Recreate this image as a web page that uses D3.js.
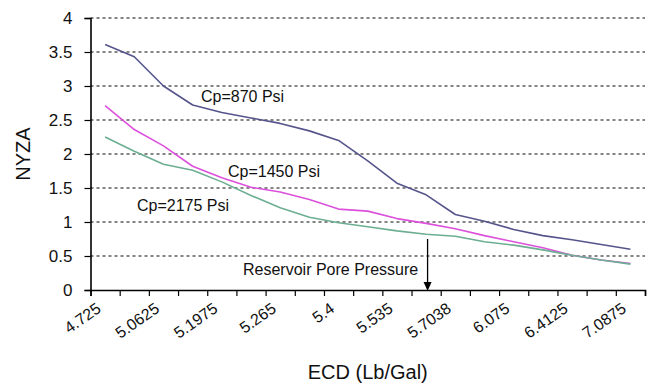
<!DOCTYPE html>
<html><head><meta charset="utf-8">
<script src="https://cdn.jsdelivr.net/npm/d3@7"></script>
<style>
body{margin:0;background:#fff;}
text{font-family:Arial,"Liberation Sans",sans-serif;fill:#111;}
</style></head>
<body><svg id="c" width="657" height="386"></svg>
<script>
// ECD (Lb/Gal) category labels (every second of 19 categories is labelled)
const ecdLabels = ["4.725","5.0625","5.1975","5.265","5.4","5.535","5.7038","6.075","6.4125","7.0875"];
const nCategories = 19;
const seriesNames = ["Cp=870 Psi","Cp=1450 Psi","Cp=2175 Psi"];
const cp870  = [3.61,3.43,3.00,2.72,2.61,2.53,2.45,2.34,2.20,1.90,1.57,1.40,1.11,1.01,0.89,0.80,0.74,0.67,0.60];
const cp1450 = [2.71,2.36,2.12,1.82,1.65,1.51,1.44,1.33,1.19,1.16,1.05,0.98,0.90,0.80,0.71,0.62,0.51,0.44,0.39];
const cp2175 = [2.25,2.04,1.85,1.76,1.59,1.39,1.21,1.07,0.99,0.93,0.87,0.82,0.79,0.71,0.66,0.59,0.51,0.44,0.38];
const yTicks = [0,0.5,1,1.5,2,2.5,3,3.5,4];
const porePressureCategory = 11.55; // arrow location (category units)

(function () {
const svg = d3.select("#c");
const pLeft = 90.5, pRight = 645, pTop = 18, pBottom = 290;
const xb = d3.scaleLinear().domain([0, nCategories]).range([pLeft, pRight]);
const xc = i => xb(i + 0.5);
const y = d3.scaleLinear().domain([0, 4]).range([pBottom, pTop]);

// grid
svg.append("g").selectAll("line").data(yTicks.filter(d => d > 0)).join("line")
  .attr("x1", pLeft).attr("x2", pRight)
  .attr("y1", d => y(d)).attr("y2", d => y(d))
  .attr("stroke", "#5c5c5c").attr("stroke-width", 1.5).attr("stroke-dasharray", "3,3");

// y axis
const ya = svg.append("g").attr("transform", `translate(${pLeft},0)`)
  .call(d3.axisLeft(y).tickValues(yTicks).tickSize(6).tickPadding(12).tickFormat(d3.format("")));
ya.select(".domain").attr("stroke", "#000").attr("stroke-width", 1.6);
ya.selectAll(".tick line").attr("stroke", "#000").attr("stroke-width", 1.2);
ya.selectAll(".tick text").style("font-size", "17px").style("font-family", "Arial,'Liberation Sans',sans-serif").attr("fill", "#111");

// x axis (ticks between categories)
const xa = svg.append("g").attr("transform", `translate(0,${pBottom})`)
  .call(d3.axisBottom(xb).tickValues(d3.range(0, nCategories + 1)).tickSize(6).tickFormat(""));
xa.select(".domain").attr("stroke", "#000").attr("stroke-width", 1.6);
xa.selectAll(".tick line").attr("stroke", "#000").attr("stroke-width", 1.2);

svg.append("g").selectAll("text").data(ecdLabels).join("text")
  .attr("transform", (d, k) => `translate(${xc(2 * k) - 3},${pBottom + 21}) rotate(-35)`)
  .attr("text-anchor", "end")
  .style("font-size", "16px")
  .text(d => d);

// lines
const line = d3.line().x((d, i) => xc(i)).y(d => y(d));
const colors = ["#55558c", "#dc50dc", "#6cae92"];
[cp870, cp1450, cp2175].forEach((s, k) => {
  svg.append("path").datum(s).attr("d", line)
    .attr("fill", "none").attr("stroke", colors[k]).attr("stroke-width", 1.6)
    .attr("stroke-linejoin", "round");
});

// series labels
const labelPos = [[201, 102], [228, 177], [137, 211]];
seriesNames.forEach((n, k) => {
  svg.append("text").attr("x", labelPos[k][0]).attr("y", labelPos[k][1])
    .style("font-size", "16px").text(n);
});

// reservoir pore pressure annotation
svg.append("text").attr("x", 243).attr("y", 275).style("font-size", "16px").text("Reservoir Pore Pressure");
const ax = xb(porePressureCategory);
svg.append("line").attr("x1", ax).attr("x2", ax).attr("y1", 239).attr("y2", 283)
  .attr("stroke", "#000").attr("stroke-width", 1.3);
svg.append("path").attr("d", `M${ax - 4},${282}L${ax + 4},${282}L${ax},${291}Z`).attr("fill", "#000");

// axis titles
svg.append("text").attr("x", (pLeft + pRight) / 2).attr("y", 379).attr("text-anchor", "middle")
  .style("font-size", "20px").text("ECD (Lb/Gal)");
svg.append("text").attr("transform", `translate(30,154) rotate(-90)`).attr("text-anchor", "middle")
  .style("font-size", "20px").text("NYZA");
})();
</script></body></html>
